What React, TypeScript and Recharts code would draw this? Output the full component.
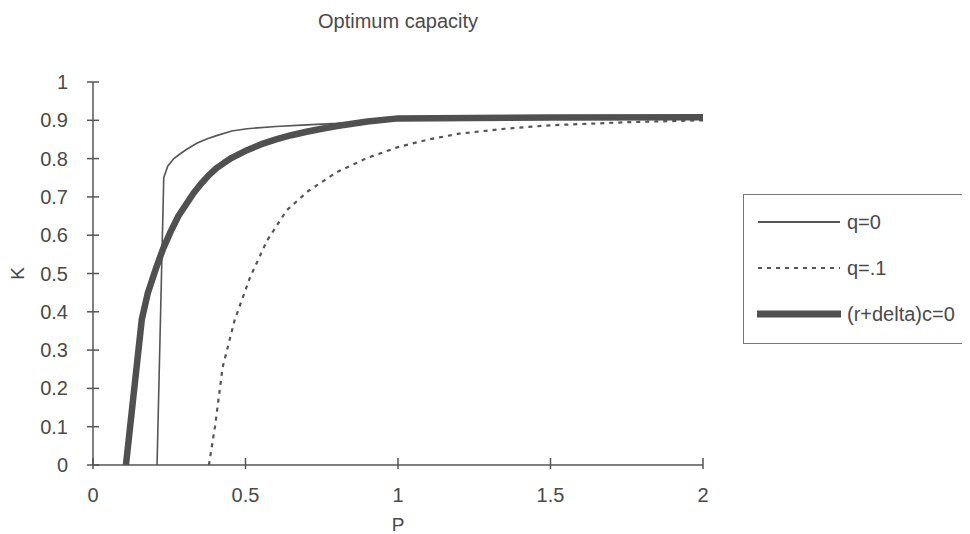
import React from 'react';
import { LineChart, Line, XAxis, YAxis, Label } from 'recharts';

// tick labels
const pTicks = [0, 0.5, 1, 1.5, 2];
const kTicks = [0, 0.1, 0.2, 0.3, 0.4, 0.5, 0.6, 0.7, 0.8, 0.9, 1];

// q=0
const q0P = [0.21, 0.232, 0.245, 0.265, 0.285, 0.305, 0.34, 0.375, 0.405, 0.455, 0.505, 0.6, 0.7, 0.8, 0.9, 1.0, 1.25, 1.5, 1.75, 2.0];
const q0K = [0, 0.75, 0.78, 0.8, 0.812, 0.823, 0.84, 0.852, 0.86, 0.872, 0.878, 0.884, 0.888, 0.892, 0.898, 0.905, 0.906, 0.907, 0.908, 0.908];

// q=.1
const q1P = [0.38, 0.4, 0.425, 0.465, 0.515, 0.57, 0.635, 0.705, 0.8, 0.9, 1.0, 1.1, 1.2, 1.35, 1.5, 1.75, 2.0];
const q1K = [0, 0.1, 0.255, 0.38, 0.49, 0.585, 0.665, 0.715, 0.765, 0.802, 0.83, 0.85, 0.865, 0.878, 0.887, 0.895, 0.9];

// (r+delta)c=0
const rdP = [0.108, 0.16, 0.18, 0.205, 0.23, 0.255, 0.28, 0.305, 0.33, 0.355, 0.38, 0.405, 0.43, 0.455, 0.505, 0.55, 0.6, 0.65, 0.7, 0.75, 0.8, 0.9, 1.0, 1.5, 2.0];
const rdK = [0, 0.38, 0.45, 0.51, 0.565, 0.61, 0.65, 0.68, 0.71, 0.735, 0.757, 0.775, 0.789, 0.802, 0.822, 0.837, 0.85, 0.861, 0.87, 0.878, 0.885, 0.897, 0.905, 0.907, 0.908];

const toPoints = (ps: number[], ks: number[]) => ps.map((p, i) => ({ p, k: ks[i] }));

const ink = '#555';
const thick = '#505050';
const textInk = '#4a4a4a';
const font = 'Arial, "Liberation Sans", sans-serif';

const XTick = ({ x, y, payload }: any) => (
  <g>
    <line x1={x} x2={x} y1={y - 7} y2={y + 4} stroke={ink} strokeWidth={1.5} />
    <text x={x} y={y + 37} textAnchor="middle" fontSize={20} fill={textInk} fontFamily={font}>
      {payload.value}
    </text>
  </g>
);

const YTick = ({ x, y, payload }: any) => (
  <g>
    <line x1={x - 6} x2={x + 6} y1={y} y2={y} stroke={ink} strokeWidth={1.5} />
    <text x={x - 25} y={y + 7} textAnchor="end" fontSize={20} fill={textInk} fontFamily={font}>
      {payload.value}
    </text>
  </g>
);

const legendRows = [
  { name: 'q=0', width: 2, dash: undefined as string | undefined, color: ink },
  { name: 'q=.1', width: 2.2, dash: '4 5', color: ink },
  { name: '(r+delta)c=0', width: 7, dash: undefined, color: thick },
];

const App = () => (
  <div style={{ position: 'relative', width: 962, height: 526, background: '#fff', overflow: 'hidden' }}>
    <div
      style={{
        position: 'absolute',
        left: 290,
        top: 1,
        width: 200,
        textAlign: 'center',
        fontFamily: font,
        fontSize: 20,
        lineHeight: '24px',
        color: textInk,
      }}
    >
      Optimum capacity
    </div>
    <LineChart width={962} height={526} margin={{ top: 74, right: 267, bottom: 29, left: 45 }}>
      <XAxis
        type="number"
        dataKey="p"
        domain={[0, 2]}
        ticks={pTicks}
        tick={<XTick />}
        tickLine={false}
        tickSize={0}
        tickMargin={0}
        height={40}
        axisLine={{ stroke: ink, strokeWidth: 1.5 }}
        allowDataOverflow
      >
        <Label
          content={({ viewBox }: any) => (
            <text
              x={viewBox.x + viewBox.width / 2}
              y={viewBox.y + 66}
              textAnchor="middle"
              fontSize={19}
              fill={textInk}
              fontFamily={font}
            >
              P
            </text>
          )}
        />
      </XAxis>
      <YAxis
        type="number"
        dataKey="k"
        domain={[0, 1]}
        ticks={kTicks}
        tick={<YTick />}
        tickLine={false}
        tickSize={0}
        tickMargin={0}
        width={40}
        axisLine={{ stroke: ink, strokeWidth: 1.5 }}
      >
        <Label
          content={({ viewBox }: any) => {
            const cx = 16;
            const cy = viewBox.y + viewBox.height / 2;
            return (
              <text
                x={cx}
                y={cy}
                transform={`rotate(-90 ${cx} ${cy})`}
                textAnchor="middle"
                fontSize={19}
                fill={textInk}
                fontFamily={font}
              >
                K
              </text>
            );
          }}
        />
      </YAxis>
      <Line
        data={toPoints(q1P, q1K)}
        dataKey="k"
        type="linear"
        stroke={ink}
        strokeWidth={2.2}
        strokeDasharray="4 5"
        dot={false}
        isAnimationActive={false}
        name="q=.1"
      />
      <Line
        data={toPoints(q0P, q0K)}
        dataKey="k"
        type="linear"
        stroke={ink}
        strokeWidth={1.6}
        dot={false}
        isAnimationActive={false}
        name="q=0"
      />
      <Line
        data={toPoints(rdP, rdK)}
        dataKey="k"
        type="linear"
        stroke={thick}
        strokeWidth={6.5}
        strokeLinejoin="round"
        dot={false}
        isAnimationActive={false}
        name="(r+delta)c=0"
      />
    </LineChart>
    <div
      style={{
        position: 'absolute',
        left: 735,
        top: 186,
        width: 227,
        height: 150,
        borderTop: '1.5px solid #777',
        borderLeft: '1.5px solid #777',
        borderBottom: '1.5px solid #777',
        boxSizing: 'border-box',
        background: '#fff',
      }}
    >
      {legendRows.map((row, i) => {
        const cy = 27 + i * 46;
        return (
          <div key={row.name}>
            <svg style={{ position: 'absolute', left: 13, top: cy - 6 }} width={84} height={12}>
              <line
                x1={1}
                x2={83}
                y1={6}
                y2={6}
                stroke={row.color}
                strokeWidth={row.width}
                strokeLinecap={i === 2 ? 'round' : 'butt'}
                strokeDasharray={row.dash}
              />
            </svg>
            <span
              style={{
                position: 'absolute',
                left: 103,
                top: cy - 12,
                fontFamily: font,
                fontSize: 20,
                lineHeight: '24px',
                color: textInk,
                whiteSpace: 'nowrap',
              }}
            >
              {row.name}
            </span>
          </div>
        );
      })}
    </div>
  </div>
);

export default App;
